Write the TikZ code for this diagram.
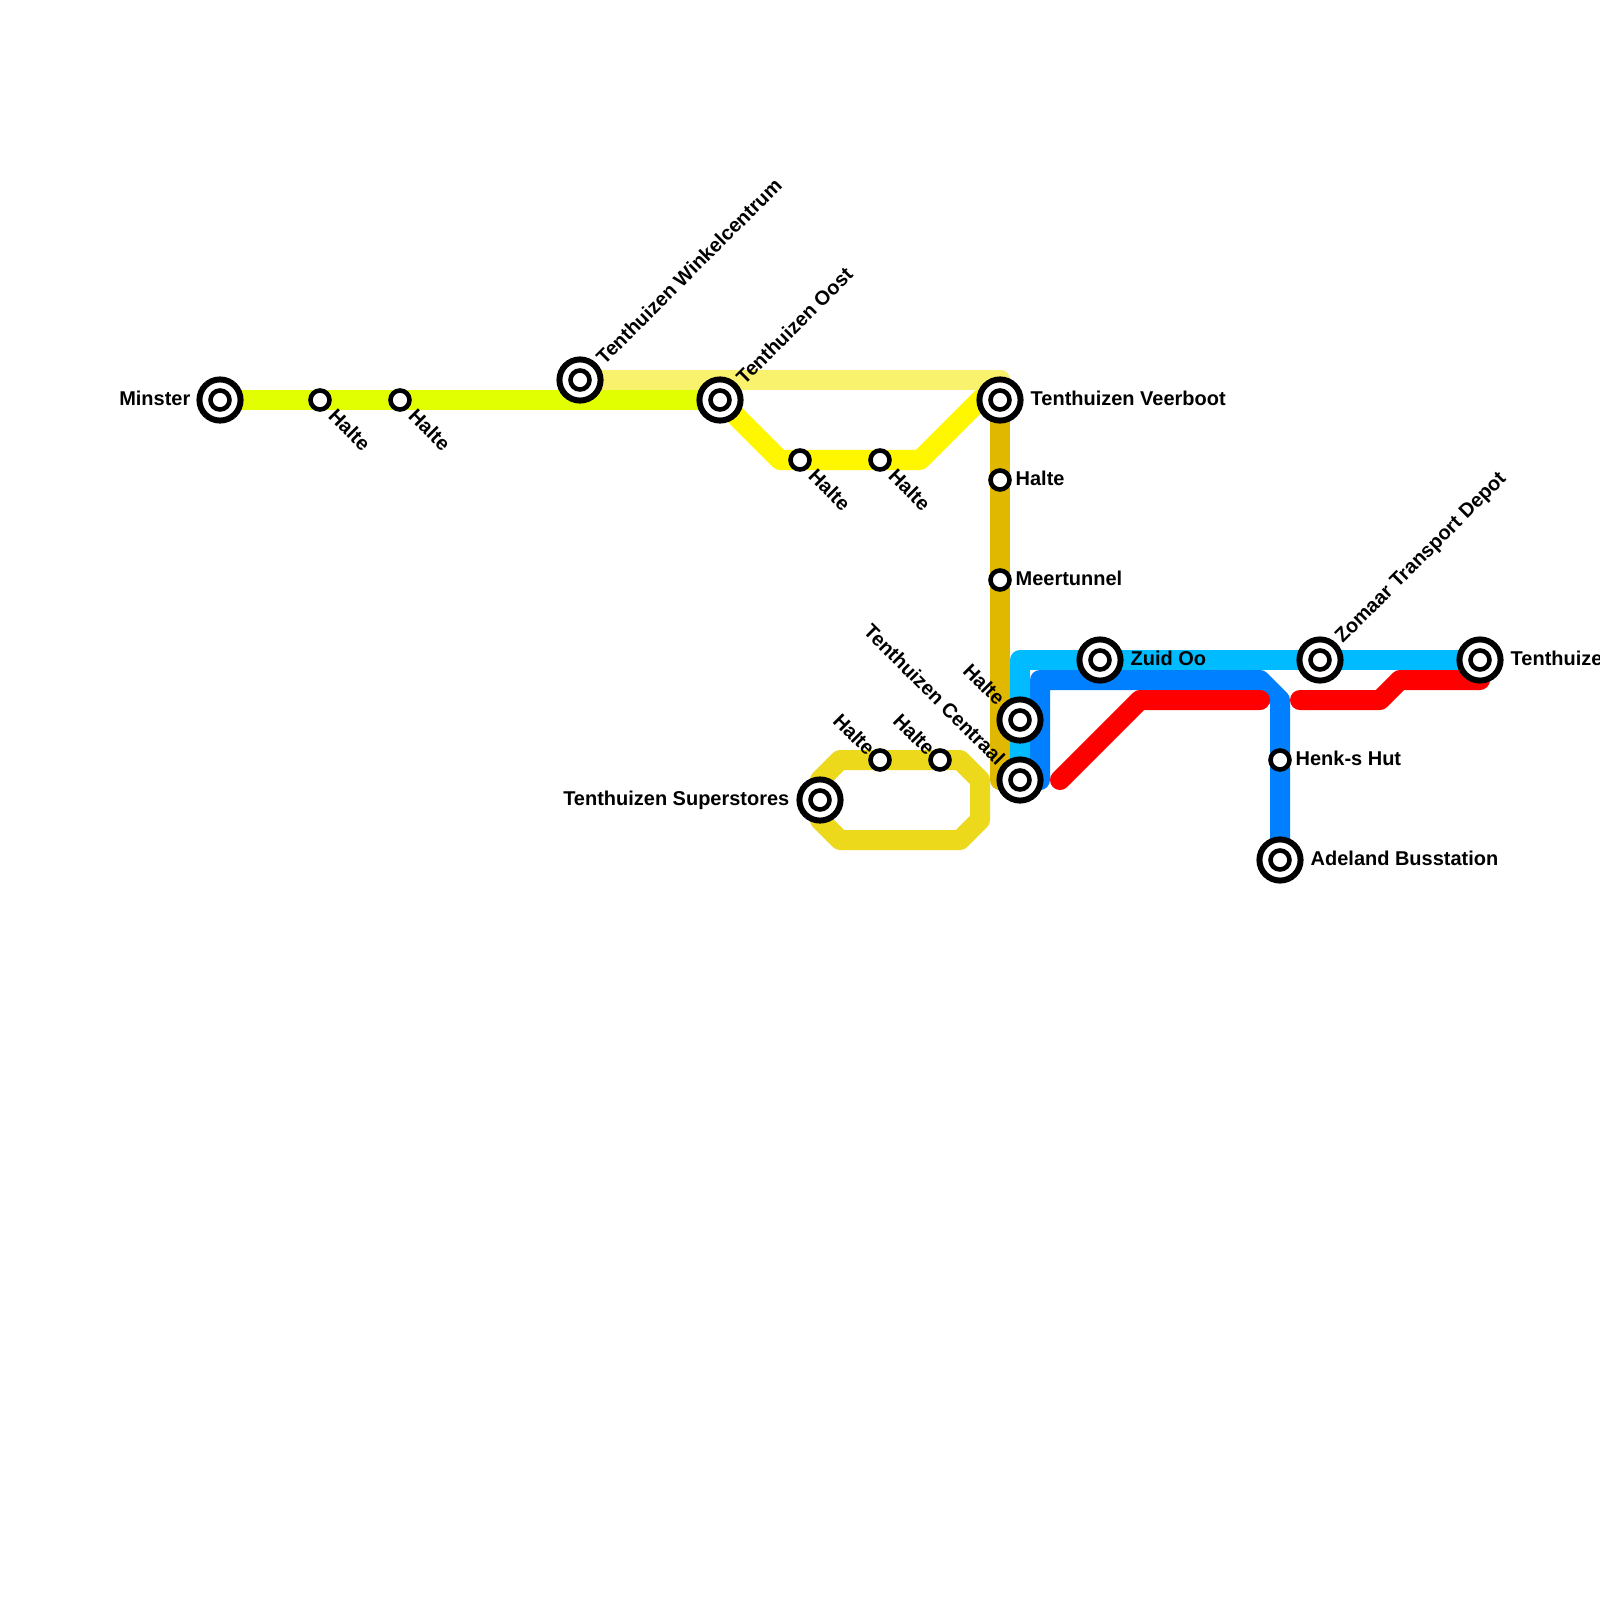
\documentclass[tikz,border=0pt]{standalone}
\usepackage{fontspec}
\setmainfont{Liberation Sans}
\definecolor{cLime}{HTML}{E1FF00}
\definecolor{cPale}{HTML}{F9F26C}
\definecolor{cYel}{HTML}{FFF700}
\definecolor{cGold}{HTML}{E0B800}
\definecolor{cLoop}{HTML}{ECD91C}
\definecolor{cCyan}{HTML}{00BBFF}
\definecolor{cBlue}{HTML}{0080FF}
\definecolor{cRed}{HTML}{FF0000}
\tikzset{
  railline/.style={line width=5.69pt,line cap=round,line join=round},
  bigouter/.style={circle,draw=black,fill=white,line width=1.7pt,minimum size=11.7pt,inner sep=0pt},
  biginner/.style={circle,draw=black,fill=white,line width=1.3pt,minimum size=5.4pt,inner sep=0pt},
  smallstop/.style={circle,draw=black,fill=white,line width=1.3pt,minimum size=5.4pt,inner sep=0pt},
  lbl/.style={inner sep=0pt,font=\bfseries\fontsize{5.68pt}{6.6pt}\selectfont},
}
\begin{document}
\begin{tikzpicture}[x=0.01cm,y=-0.01cm]
\useasboundingbox (0,0) rectangle (1600,1600);
\clip (0,0) rectangle (1600,1600);
\fill[white] (0,0) rectangle (1600,1600);
% stations
\foreach \n/\x/\y in {minster/220/400,hA/320/400,hB/400/400,wink/580/380,oost/720/400,veer/1000/400,
  hC/800/460,hD/880/460,hE/1000/480,meer/1000/580,hF/1020/720,cent/1020/780,sup/820/800,hG/880/760,hH/940/760,
  zuid/1100/660,zom/1320/660,tent/1480/660,henk/1280/760,ade/1280/860,
  % bends
  pA/1000/380,yA/780/460,yB/920/460,gEnd/1000/780,
  lA/840/760,lB/960/760,lC/980/780,lD/980/820,lE/960/840,lF/840/840,lG/820/820,lH/820/780,
  cA/1020/660,bA/1040/780,bB/1040/680,bC/1260/680,bD/1280/700,bE/1040/700,bF/1060/680,
  rA/1060/780,rB/1140/700,rC/1260/700,rD/1300/700,rE/1380/700,rF/1400/680,rG/1480/680}
  {\coordinate (\n) at (\x,\y);}
% lines
\draw[railline,cGold] (veer) -- (gEnd);
\draw[railline,cYel] (oost) -- (yA) -- (yB) -- (pA);
\draw[railline,cPale] (wink) -- (pA) -- (veer);
\draw[railline,cLime] (minster) -- (oost);
\draw[railline,cLoop] (lA) -- (lB) -- (lC) -- (lD) -- (lE) -- (lF) -- (lG) -- (lH) -- cycle;
\draw[railline,cCyan] (cent) -- (cA) -- (tent);
\draw[railline,cBlue] (bA) -- (bB) -- (bC) -- (bD) -- (ade);
\fill[cBlue] (bE) -- (bF) -- (bB) -- cycle;
\draw[railline,cRed] (rA) -- (rB) -- (rC);
\draw[railline,cRed] (rD) -- (rE) -- (rF) -- (rG);
% big stations
\foreach \n in {minster,wink,oost,veer,hF,cent,sup,zuid,zom,tent,ade}{
  \node[bigouter] (\n-o) at (\n) {};
  \node[biginner] (\n-i) at (\n) {};
}
\foreach \n in {hA,hB,hC,hD,hE,meer,hG,hH,henk}{
  \node[smallstop] (\n-s) at (\n) {};
}
% labels
\node[lbl,anchor=east] (t1) at ([shift={(-29,-2)}]minster) {Minster};
\node[lbl,anchor=west,rotate=-45] (t2) at ([shift={(12,12)}]hA) {Halte};
\node[lbl,anchor=west,rotate=-45] (t3) at ([shift={(12,12)}]hB) {Halte};
\node[lbl,anchor=west,rotate=45] (t4) at ([shift={(19,-19)}]wink) {Tenthuizen Winkelcentrum};
\node[lbl,anchor=west,rotate=45] (t5) at ([shift={(19,-19)}]oost) {Tenthuizen Oost};
\node[lbl,anchor=west] (t6) at ([shift={(30,-2)}]veer) {Tenthuizen Veerboot};
\node[lbl,anchor=west,rotate=-45] (t7) at ([shift={(12,12)}]hC) {Halte};
\node[lbl,anchor=west,rotate=-45] (t8) at ([shift={(12,12)}]hD) {Halte};
\node[lbl,anchor=west] (t9) at ([shift={(15,-2)}]hE) {Halte};
\node[lbl,anchor=west] (t10) at ([shift={(15,-2)}]meer) {Meertunnel};
\node[lbl,anchor=east,rotate=-45] (t11) at ([shift={(-18,-18)}]hF) {Halte};
\node[lbl,anchor=east,rotate=-45] (t12) at ([shift={(-18,-18)}]cent) {Tenthuizen Centraal};
\node[lbl,anchor=east] (t13) at ([shift={(-30,0)}]sup) {Tenthuizen Superstores};
\node[lbl,anchor=east,rotate=-45] (t14) at ([shift={(-8,-8)}]hG) {Halte};
\node[lbl,anchor=east,rotate=-45] (t15) at ([shift={(-8,-8)}]hH) {Halte};
\node[lbl,anchor=west] (t16) at ([shift={(30,-2)}]zuid) {Zuid Oo};
\node[lbl,anchor=west,rotate=45] (t17) at ([shift={(19,-19)}]zom) {Zomaar Transport Depot};
\node[lbl,anchor=west] (t18) at ([shift={(30,-2)}]tent) {Tenthuize};
\node[lbl,anchor=west] (t19) at ([shift={(15,-2)}]henk) {Henk-s Hut};
\node[lbl,anchor=west] (t20) at ([shift={(30,-2)}]ade) {Adeland Busstation};
\end{tikzpicture}
\end{document}
